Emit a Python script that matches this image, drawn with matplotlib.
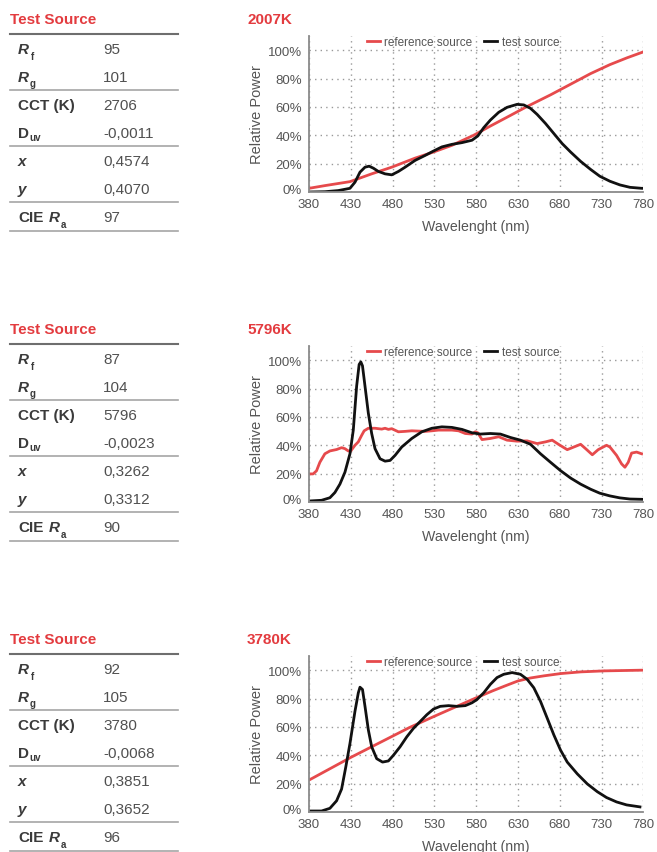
import numpy as np
import matplotlib.pyplot as plt
from matplotlib.lines import Line2D
from matplotlib.transforms import ScaledTranslation

plt.rcParams['font.family'] = ['Liberation Sans', 'DejaVu Sans']

W, H = 657, 853
RED = '#e64a4c'
TXT_RED = '#e33b3f'
LABEL = '#3a3a3a'
VALUE = '#505050'
GRAY = '#555555'

# ---- data ----
titles = ['2007K', '5796K', '3780K']

table_values = [
    ['95', '101', '2706', '-0,0011', '0,4574', '0,4070', '97'],
    ['87', '104', '5796', '-0,0023', '0,3262', '0,3312', '90'],
    ['92', '105', '3780', '-0,0068', '0,3851', '0,3652', '96'],
]

wl_test_1 = [380, 399, 415, 429, 435, 441, 447, 452, 457, 463, 471, 479, 487, 495,
             507, 519, 529, 539, 551, 563, 575, 582, 589, 597, 607, 617, 629, 637,
             645, 653, 663, 673, 683, 693, 705, 717, 728, 740, 752, 764, 778]
pw_test_1 = [0, 0.2, 1, 2.6, 6.9, 14, 17.5, 18.2, 16.8, 14.5, 12.8, 12.1, 14.5, 17.5,
             22.3, 25.8, 28.9, 31.8, 33.6, 34.8, 36.5, 39.5, 45.3, 50.7, 56.2, 59.7, 61.8, 61.4,
             59, 54.7, 48.3, 41.2, 34.1, 28.2, 21.6, 15.9, 11.1, 7.6, 5, 3.3, 2.6]
wl_ref_1 = [380, 399, 429, 455, 479, 507, 529, 551, 577, 597, 621, 640, 669, 693,
            717, 740, 760, 780]
pw_ref_1 = [2.6, 4.5, 7.3, 12.8, 17.5, 23.9, 28.2, 32.9, 40, 46.5, 54, 60, 68.5, 76,
            83.5, 89.8, 94.5, 98.8]

wl_test_2 = [380, 395, 405, 411, 417, 423, 429, 433, 437, 440, 442, 444, 447, 451, 455,
             459, 465, 471, 477, 483, 491, 503, 515, 527, 539, 551, 563, 575, 585, 597,
             609, 621, 633, 645, 657, 669, 681, 693, 705, 717, 728, 740, 752, 764, 778]
pw_test_2 = [0.7, 1.2, 3, 6.7, 12.6, 21, 34, 50.7, 81.7, 97, 98.8, 96, 81.7, 62.6, 48.3,
             37.6, 30.5, 28.8, 29.3, 32.9, 38.8, 44.8, 49.5, 52, 53, 52.6, 51.2, 48.8, 47.9, 48.3,
             47.9, 45.5, 43.6, 40.7, 34, 28, 22.1, 16.9, 12.6, 9, 6.2, 4.3, 2.9, 2.1, 1.9]
wl_ref_2 = [380, 385, 389, 393, 399, 405, 413, 419, 423, 427, 430, 435, 439, 443, 446,
            451, 459, 467, 471, 475, 479, 487, 495, 503, 511, 519, 527, 535, 543, 551,
            559, 567, 575, 579, 582, 587, 597, 607, 617, 629, 641, 653, 663, 671, 679,
            689, 697, 705, 711, 719, 726, 736, 740, 748, 754, 758, 762, 766, 772, 778]
pw_ref_2 = [19.8, 19.8, 22, 28, 34, 36, 37, 38.3, 37.6, 36, 36, 40, 42.4, 47, 50.2,
            52, 52, 51.4, 52, 51.2, 51.7, 49.5, 49.8, 50.2, 50, 49.8, 50.2, 50.7, 50.7, 50.7,
            50.2, 48.3, 47.9, 49.5, 48.8, 44, 44.8, 46, 43.6, 42.9, 43.1, 41.2, 42.4, 43.6, 40.5,
            36.9, 38.8, 40.7, 37.6, 33.3, 36.9, 40, 38.8, 32.9, 26.9, 24.5, 28, 34.5, 35.2, 34]

wl_test_3 = [380, 395, 405, 413, 419, 424, 429, 435, 439, 441, 444, 447, 451, 455, 461,
             468, 475, 481, 489, 497, 505, 513, 521, 529, 537, 547, 557, 567, 575, 581,
             589, 597, 605, 613, 623, 633, 641, 649, 657, 665, 673, 681, 689, 701, 713,
             725, 736, 748, 760, 776]
pw_test_3 = [0.7, 0.7, 2.6, 7.9, 16.2, 31.7, 48.3, 71, 84, 88, 86.4, 74.5, 57.9, 46, 37.6,
             35.2, 36, 40, 46, 53, 59, 63.8, 68.6, 72.6, 74.5, 75, 74.5, 75, 77, 79.3,
             84, 90, 94.8, 97.1, 98.3, 97.1, 93.6, 87.6, 78, 66.2, 54.3, 43.6, 35.2, 26.9, 19.8,
             14.3, 10.2, 7.1, 5, 3.6]
wl_ref_3 = [380, 430, 480, 500, 530, 555, 580, 600, 615, 630, 645, 661, 681, 705, 733, 778]
pw_ref_3 = [22.5, 38.5, 53.5, 59.5, 67.5, 74, 80.5, 85.5, 89, 92.4, 94.5, 96, 97.6, 98.8,
            99.5, 100]

curves = [
    (wl_ref_1, pw_ref_1, wl_test_1, pw_test_1),
    (wl_ref_2, pw_ref_2, wl_test_2, pw_test_2),
    (wl_ref_3, pw_ref_3, wl_test_3, pw_test_3),
]

x_ticks = [380, 430, 480, 530, 580, 630, 680, 730, 780]
y_ticks = [0, 20, 40, 60, 80, 100]

fig = plt.figure(figsize=(W / 100, H / 100), dpi=100)


def fx(x):
    return x / W


def fy(y):
    return 1 - y / H


def draw_table(y0, values):
    fig.text(fx(10), fy(y0 + 20), 'Test Source', color=TXT_RED, fontsize=11,
             fontweight='bold', va='center')
    fig.add_artist(Line2D([fx(10), fx(178)], [fy(y0 + 34.7)] * 2, color='#6e6e6e', lw=1.5))
    for yl in (91, 147, 203, 232):
        fig.add_artist(Line2D([fx(10), fx(178)], [fy(y0 + yl)] * 2, color='#a5a5a5', lw=1.2))
    rows = [y0 + 50 + 28 * i for i in range(7)]
    lab = dict(color=LABEL, fontsize=11, fontweight='bold', va='center')
    sub = dict(color=LABEL, fontsize=7, fontweight='bold', va='baseline')
    fig.text(fx(18), fy(rows[0]), 'R', style='italic', **lab)
    fig.text(fx(30.5), fy(rows[0] + 10), 'f', **sub)
    fig.text(fx(18), fy(rows[1]), 'R', style='italic', **lab)
    fig.text(fx(30), fy(rows[1] + 9), 'g', **sub)
    fig.text(fx(18), fy(rows[2]), 'CCT (K)', **lab)
    fig.text(fx(18), fy(rows[3]), 'D', **lab)
    fig.text(fx(29), fy(rows[3] + 7), 'uv', **sub)
    fig.text(fx(18), fy(rows[4]), 'x', style='italic', **lab)
    fig.text(fx(18), fy(rows[5]), 'y', style='italic', **lab)
    fig.text(fx(18), fy(rows[6]), 'CIE', **lab)
    fig.text(fx(48.5), fy(rows[6]), 'R', style='italic', **lab)
    fig.text(fx(61), fy(rows[6] + 10), 'a', **sub)
    for r, v in zip(rows, values):
        fig.text(fx(103), fy(r), v, color=VALUE, fontsize=11, va='center')


for i in range(3):
    off = 310 * i
    draw_table(off, table_values[i])
    fig.text(fx(247), fy(off + 20), titles[i], color=TXT_RED, fontsize=11,
             fontweight='bold', va='center')

    ax = fig.add_axes([fx(309), fy(off + 193), (643.3 - 309) / W, 156 / H])
    wr, pr, wt, pt = curves[i]
    ax.plot(wr, pr, color=RED, lw=2.0, label='reference source')
    ax.plot(wt, pt, color='#111111', lw=2.0, label='test source')
    ax.set_xlim(380, 780)
    ax.set_ylim(0, 110)
    ax.set_xticks(x_ticks)
    ax.set_yticks(y_ticks)
    ax.set_xticklabels([str(t) for t in x_ticks])
    ax.set_yticklabels(['%d%%' % t for t in y_ticks])
    ax.tick_params(length=0, labelsize=9.5, labelcolor=GRAY)
    ax.tick_params(axis='y', pad=5)
    ax.tick_params(axis='x', pad=4)
    ax.grid(True, color='#999999', lw=1, linestyle=(0, (1, 3)))
    for s in ('top', 'right'):
        ax.spines[s].set_visible(False)
    for s in ('left', 'bottom'):
        ax.spines[s].set_color('#8a8a8a')
        ax.spines[s].set_linewidth(1.3)
    ax.set_xlabel('Wavelenght (nm)', fontsize=10.2, color=GRAY, labelpad=7)
    ax.set_ylabel('Relative Power', fontsize=10.5, color=GRAY, labelpad=3)
    ax.legend(loc='upper center', bbox_to_anchor=(0.461, 1.0), ncol=2, frameon=False,
              fontsize=8.5, handlelength=1.1, handletextpad=0.4, columnspacing=1.0,
              borderpad=0, borderaxespad=0, labelcolor=GRAY)
    # lift the 0% label a little above the bottom spine
    zero = ax.get_yticklabels()[0]
    zero.set_transform(zero.get_transform() +
                       ScaledTranslation(0, 0.037, fig.dpi_scale_trans))

fig.savefig('out.png', dpi=100)
